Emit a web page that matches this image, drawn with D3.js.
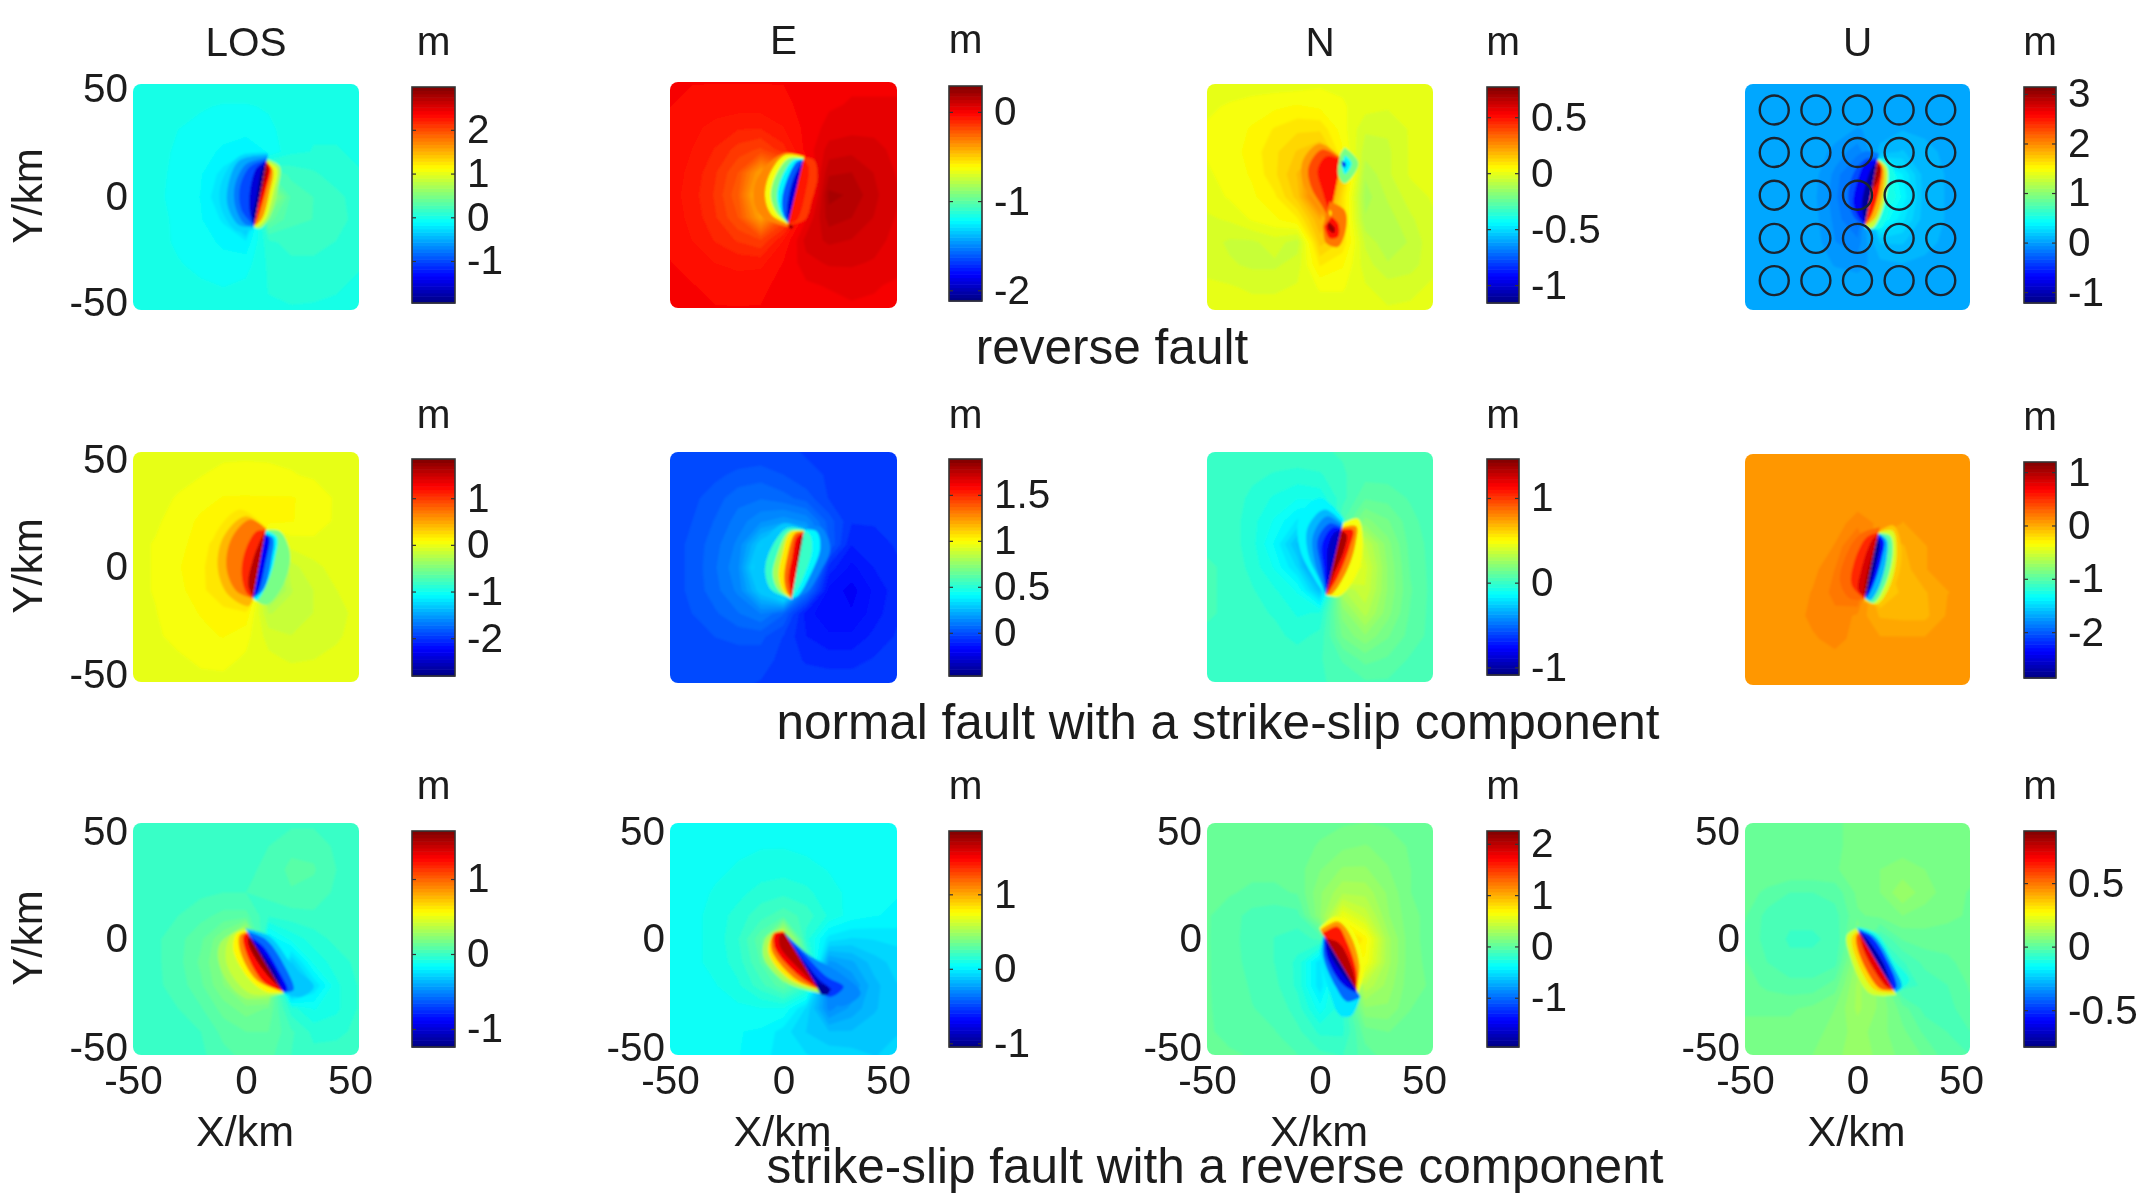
<!DOCTYPE html>
<meta charset="utf-8">
<style>
    html, body { margin: 0; background: #fff; }
    svg { display: block; filter: blur(0.6px); }
    text { font-family: "Liberation Sans", Arial, sans-serif; fill: #1c1c1c; font-size: 40.5px; }
    .cbar-axis path { display: none; }
    .cbar-axis line { stroke: #333; stroke-width: 1.2px; }
    .tick-axis path, .tick-axis line { display: none; }
</style>
<svg width="2150" height="1200"></svg>
<script src="https://d3js.org/d3.v7.min.js"></script>
<script>

    // grid rows run y = 50 .. -50, columns x = -50 .. 50, every 10 km. values in m
    var gridKm = [-50, -40, -30, -20, -10, 0, 10, 20, 30, 40, 50];

    var columnTitles = ["LOS", "E", "N", "U"];
    var rowTitles = ["reverse fault", "normal fault with a strike-slip component", "strike-slip fault with a reverse component"];
    var axisTicks = [-50, 0, 50];
    var circleKmX = [-37, -18.5, 0, 18.5, 37];
    var circleKmY = [38.5, 19.7, 0.8, -18.3, -37];

    var domains = [
        [-1.96, 2.98], [-2.12, 0.29], [-1.16, 0.77], [-1.22, 3.14],
        [-2.81, 1.84], [-0.47, 1.89], [-1.09, 1.46], [-2.86, 1.19],
        [-1.24, 1.64], [-1.05, 1.85], [-1.96, 2.25], [-0.79, 0.91]
    ];
    var barTicks = [
        [-1, 0, 1, 2], [-2, -1, 0], [-1, -0.5, 0, 0.5], [-1, 0, 1, 2, 3],
        [-2, -1, 0, 1], [0, 0.5, 1, 1.5], [-1, 0, 1], [-2, -1, 0, 1],
        [-1, 0, 1], [-1, 0, 1], [-1, 0, 1, 2], [-0.5, 0, 0.5]
    ];

    // fault trace of each panel in km: top x, top y, bottom x, bottom y
    var faults = [
        [9.1, 15.6, 3.7, -12.8], [8.8, 15.5, 2.2, -12.5], [9.4, 16.4, 3.5, -13.1], [9, 16.4, 3.4, -12.4],
        [8.8, 15.7, 3.2, -13.5], [8.8, 14, 3.7, -13.5], [9.4, 15.5, 2.8, -12], [9.3, 15.3, 3.4, -12],
        [1.5, 1.5, 16.5, -22.8], [0.7, 2.2, 15.5, -21.3], [1.9, 1, 16.2, -22.3], [2.4, 0.3, 16, -21.8]
    ];

    // reverse fault
    var losGrid1 = [
        .04,.04,.04,.04,.04,.04,.04,.04,.04,.04,.04,
        .04,.04,.02,-.02,-.04,-.04,-.02,.02,.04,.04,.04,
        .04,.02,-.03,-.06,-.08,-.08,-.05,.01,.04,.04,.04,
        .04,.01,-.05,-.08,-.12,-.16,-.1,.03,.05,.05,.04,
        .04,-.01,-.05,-.1,-.22,-.6,.3,.18,.14,.08,.05,
        .04,-.01,-.06,-.11,-.28,-.7,.7,.26,.2,.15,.08,
        .04,0,-.05,-.1,-.2,-.6,.4,.22,.2,.16,.09,
        .04,.01,-.05,-.08,-.12,-.16,.1,.16,.16,.12,.07,
        .04,.03,-.02,-.06,-.08,-.06,.06,.1,.1,.07,.05,
        .04,.04,.02,-.01,-.03,-.01,.05,.07,.06,.05,.04,
        .04,.04,.04,.04,.04,.04,.04,.04,.04,.04,.04
    ];
    var losLobes1 = [
        [-.28, [[8.2,19.5],[-3,18],[-11,6],[-11,-5],[-4,-15],[3.7,-14]]],
        [-.5, [[8.4,18.6],[-3,16],[-8,4.6],[-8,-4.3],[-3,-12.5],[3.7,-13]]],
        [-.75, [[8.6,17.4],[0,14.5],[-5,4.6],[-4.5,-5],[-.5,-12],[3.7,-13]]],
        [-1, [[8.8,16.4],[1.8,13.4],[-2.6,4.6],[-2,-5.8],[3.7,-12.8]]],
        [-1.5, [[8.8,16.2],[4.7,12.7],[1.8,3],[1.8,-7.2],[3.7,-12.8]]],
        [-1.9, [[9,15.6],[7,12],[4.7,0],[3.2,-8.7],[3.7,-12.4]]],
        [.7, [[9.9,16.7],[15,13.4],[14.3,4.6],[10.6,-8.7],[6.2,-13.9],[3.7,-13.5]]],
        [1.05, [[10,15.6],[13.6,12.7],[12,1.6],[8.4,-10],[5,-13],[3.7,-12.8]]],
        [1.6, [[9.5,15.4],[11.9,12],[10.3,1.6],[6.9,-10],[3.9,-12.8]]],
        [2.3, [[9.1,15.6],[10.9,12.7],[8.8,3],[5,-10],[3.7,-12.8]]],
        [2.8, [[9.1,15],[9.8,12.5],[7.4,3],[5.6,-4]]]
    ];
    var eGrid1 = [
        -.01,-.01,-.01,-.01,-.01,-.01,0,.01,.02,.02,.02,
        -.01,-.02,-.03,-.03,-.03,-.02,0,.02,.03,.03,.03,
        -.02,-.04,-.06,-.08,-.08,-.05,0,.04,.05,.05,.04,
        -.02,-.05,-.09,-.14,-.17,-.1,0,.08,.09,.08,.05,
        -.03,-.06,-.12,-.2,-.4,-.3,-.05,.13,.14,.1,.06,
        -.03,-.07,-.13,-.23,-.5,-.4,-.08,.19,.17,.11,.07,
        -.03,-.06,-.12,-.2,-.4,-.2,.02,.16,.14,.1,.06,
        -.02,-.05,-.09,-.13,-.16,-.05,.08,.11,.1,.08,.05,
        -.01,-.03,-.05,-.06,-.06,-.01,.05,.07,.07,.06,.04,
        -.01,-.01,-.02,-.03,-.02,0,.02,.03,.04,.03,.02,
        -.01,-.01,-.01,-.01,-.01,0,.01,.01,.02,.02,.01
    ];
    var eLobes1 = [
        [-.35, [[8.8,17],[0,18.4],[-10.3,9.6],[-13.3,-.7],[-9.6,-9.6],[2.2,-14]]],
        [-.65, [[8.8,16.8],[.7,17.7],[-5.9,9.6],[-8.1,-.7],[-5.2,-8.8],[1.8,-12.8]]],
        [-.95, [[8.8,16.2],[2.2,16.2],[-3.7,8.1],[-5.6,-.7],[-2.9,-8.1],[2,-12.5]]],
        [-1.25, [[8.8,15.8],[4.4,15.5],[-.7,8.1],[-2.9,-.7],[-1.2,-8.1],[2.1,-12.5]]],
        [-1.6, [[8.8,15.5],[5.9,14.7],[1.5,6.6],[-.7,-2.2],[0,-8.8],[2.2,-12.5]]],
        [-1.9, [[8.8,15.3],[6.9,12.5],[3.7,5.2],[1.8,-3.7],[1.5,-9.6],[2.2,-12.5]]],
        [-.14, [[9.1,16.7],[13.5,15.5],[15,8.1],[12.5,-2.2],[9.5,-11],[2.9,-13.3]]],
        [-.05, [[9.1,15.5],[11,12.5],[9.6,.7],[5.9,-11],[2.8,-12.8]]],
        [.22, [[2.6,-13],[4.4,-13.8],[3.4,-15],[2.2,-14]], 1]
    ];
    var nGrid1 = [
        0,0,0,0,0,.01,.01,0,0,0,0,
        .01,.02,.03,.04,.05,.04,.02,0,-.01,0,0,
        .02,.03,.05,.08,.1,.1,.03,-.04,-.04,-.01,0,
        .02,.03,.06,.1,.14,.17,.05,-.06,-.05,-.01,0,
        .01,.03,.05,.1,.17,.3,.15,-.1,-.05,-.01,0,
        0,.02,.04,.07,.15,.35,.1,-.12,-.07,-.03,-.01,
        -.02,-.01,.02,.04,.07,.2,.1,-.1,-.09,-.05,-.02,
        -.03,-.05,-.05,-.03,-.06,.15,.1,-.05,-.1,-.07,-.02,
        -.02,-.04,-.05,-.05,-.03,.08,.05,-.03,-.07,-.06,-.02,
        -.01,-.01,-.02,-.02,-.01,.02,.02,-.01,-.03,-.02,-.01,
        0,0,0,0,0,0,0,-.01,-.01,-.01,-.01
    ];
    var nLobes1 = [
        [.25, [[9.4,17],[0,23.7],[-7.5,16.4],[-7.5,6],[-1,-4],[3,-12]]],
        [.4, [[8.9,16.8],[1,21],[-5,13.4],[-4,4.6],[1.5,-5],[3.5,-10]]],
        [.52, [[8.7,16.4],[3,18],[-1,12],[1,3],[3.5,-5],[4.2,-8]]],
        [.3, [[4.3,-2],[10.9,-5.8],[11.7,-13],[8,-22],[2.8,-20.5],[1.3,-13]], 1],
        [.5, [[5,-8.7],[8,-11.7],[8,-17.5],[4.3,-18.3],[2,-13]], 1],
        [.72, [[3.5,-11],[6.5,-13.8],[6,-16],[3.5,-14]], 1],
        [.05, [[4.3,-5.5],[5.1,-7],[4.6,-8.5],[4.1,-7]], 1],
        [-.2, [[10.9,22],[17,15],[11,6],[8,10],[9,19]], 1],
        [-.45, [[11,18.5],[14,15],[11,10],[9.5,14]], 1],
        [-.95, [[9.5,15.8],[11.3,15],[11,13],[9.8,14]], 1]
    ];
    var uGrid1 = [
        .07,.07,.07,.07,.07,.07,.07,.07,.07,.07,.07,
        .07,.07,.07,.07,.07,.07,.07,.07,.07,.07,.07,
        .07,.07,.07,.07,.05,0,.03,.07,.07,.07,.07,
        .07,.07,.07,.06,-.02,-.1,.1,.15,.08,.07,.07,
        .07,.07,.07,.04,-.08,-.3,.6,.35,.1,.07,.07,
        .07,.07,.07,.03,-.1,-.4,.7,.4,.1,.07,.07,
        .07,.07,.07,.04,-.08,-.25,.5,.3,.1,.07,.07,
        .07,.07,.07,.05,-.06,-.1,.15,.15,.08,.07,.07,
        .07,.07,.07,.06,0,-.03,.05,.07,.07,.07,.07,
        .07,.07,.07,.07,.07,.07,.07,.07,.07,.07,.07,
        .07,.07,.07,.07,.07,.07,.07,.07,.07,.07,.07
    ];
    var uLobes1 = [
        [-.15, [[9,19.3],[2.7,20],[-4.7,12],[-7,-1.3],[-4.7,-10],[3.4,-13]]],
        [-.4, [[8.5,17],[4,17],[-2,10],[-4,-1],[-1.5,-9],[3.4,-13]]],
        [-.7, [[9,16.4],[4,15.6],[-.3,6],[-1.8,-2.8],[.4,-8.7],[3.4,-12.4]]],
        [-1.1, [[9,15.6],[6.3,12.7],[3.4,4.6],[1.9,-4.3],[3.4,-12.1]]],
        [.5, [[9.3,17],[13.7,16.4],[16.7,9],[14.5,-4.3],[10,-13.9],[4.1,-13.9]]],
        [1.3, [[9.3,16.7],[13,13.4],[13.3,4.6],[10,-8.7],[6.3,-13.9],[3.8,-12.8]]],
        [1.8, [[9.2,16.4],[11.8,12.7],[11.5,3],[7.8,-9.4],[4,-12.8]]],
        [2.5, [[9,16],[10.8,13.4],[10,4.6],[6.3,-8],[3.4,-12.4]]],
        [3, [[9,15],[10.2,12.7],[9,7],[8,2.8]]]
    ];

    // normal fault with a strike-slip component
    var losGrid2 = [
        0,0,0,0,0,0,0,0,0,0,0,
        0,0,0,.02,.05,.06,.05,.03,.01,0,0,
        0,0,.03,.07,.1,.1,.1,.1,.08,.01,0,
        0,.01,.06,.11,.14,.18,.13,.1,.07,.01,0,
        0,.03,.08,.12,.25,.5,-.2,-.02,0,0,0,
        0,.03,.09,.14,.3,.7,-.5,-.15,-.07,-.02,0,
        0,.03,.08,.13,.3,.6,-.5,-.2,-.12,-.05,-.02,
        0,.02,.07,.1,.12,.15,-.2,-.17,-.12,-.07,-.03,
        0,.01,.05,.08,.1,.05,-.08,-.12,-.1,-.06,-.02,
        0,0,.01,.04,.05,.01,-.03,-.06,-.05,-.03,-.01,
        0,0,0,0,0,0,0,0,0,0,0
    ];
    var losLobes2 = [
        [.2, [[9.1,17],[-2.7,25],[-13.7,14],[-16.7,-.4],[-11.5,-13.5],[.3,-19],[3,-14]]],
        [.45, [[9,16.6],[-.5,22],[-10,13],[-12.5,-.4],[-8,-12],[1,-17],[3,-14]]],
        [.75, [[8.8,16.5],[1.8,20.6],[-6.3,12.6],[-8.6,-.4],[-4.1,-10.6],[3,-13.6]]],
        [1.1, [[8.8,15.9],[4.7,15.5],[-.4,6.8],[-1.9,-3.3],[.3,-11.3],[3.2,-13.5]]],
        [1.6, [[8.8,15.7],[6.9,12.6],[2.9,2.5],[1,-7.7],[3.2,-13.5]]],
        [-.5, [[9,16],[15,15.5],[19.5,5.4],[16.5,-7.7],[9.1,-16.4],[3.5,-13.8]]],
        [-1.1, [[9,15.9],[13.6,13],[12.8,3.9],[9.1,-7.7],[4.7,-14.6],[3.4,-13.5]]],
        [-1.7, [[9,14.2],[12,12.6],[11.4,3.9],[7.7,-9.9],[3.6,-13.5]]],
        [-2.3, [[8.8,14.2],[10.3,12.6],[8.4,1],[5.5,-10.6],[3.2,-13.5]]]
    ];
    var eGrid2 = [
        -.02,-.02,-.02,-.02,-.02,-.02,-.03,-.03,-.03,-.03,-.03,
        -.02,-.01,0,.02,.03,.01,-.02,-.03,-.04,-.04,-.03,
        -.02,0,.03,.07,.08,.06,.03,-.03,-.05,-.05,-.04,
        -.02,.01,.05,.1,.15,.18,.15,.03,-.06,-.06,-.05,
        -.01,.02,.07,.13,.3,.5,.35,.05,-.1,-.08,-.06,
        -.01,.02,.08,.15,.4,.6,.3,-.08,-.15,-.1,-.07,
        -.01,.02,.07,.13,.3,.5,.1,-.15,-.19,-.13,-.08,
        -.01,.01,.04,.08,.12,.05,-.12,-.17,-.17,-.12,-.07,
        -.02,-.01,.01,.02,.02,-.03,-.1,-.13,-.13,-.09,-.06,
        -.02,-.02,-.01,-.01,-.01,-.04,-.07,-.08,-.08,-.06,-.05,
        -.02,-.02,-.02,-.02,-.03,-.04,-.04,-.04,-.04,-.04,-.03
    ];
    var eLobes2 = [
        [.3, [[8.8,16.5],[0,19],[-9.6,9.7],[-13.3,-1.9],[-8.8,-10.6],[2.2,-14.2]]],
        [.55, [[8.6,16.5],[1.5,17],[-5.9,7.5],[-8.1,-1.9],[-5.2,-9.9],[2.2,-13.5]]],
        [.8, [[8.6,16],[2.2,15.5],[-2.9,5.4],[-4.7,-3.3],[-2.2,-9.9],[3,-13.5]]],
        [1.05, [[8.6,15.7],[3,15.2],[-.7,5.4],[-2.2,-4],[0,-10.6],[3.4,-13.5]]],
        [1.35, [[8.8,15.4],[5.2,14.8],[1.5,3.9],[.3,-4.8],[1.5,-10.6],[3.7,-13.5]]],
        [1.6, [[8.8,15],[5.9,13.3],[3.7,3.9],[2.2,-4.8],[3.7,-13.5]]],
        [1.8, [[8.8,14],[7.4,12.7],[5.9,3.9],[4,-4.8]]],
        [.15, [[9.1,17],[16.2,17.7],[20.6,8.3],[16.2,-1.9],[10.3,-10.6],[4,-13.5]]],
        [.4, [[9.1,16.5],[14.7,15.5],[16.2,8.3],[11.8,-3.3],[6.6,-12],[4,-13.5]]],
        [.55, [[9.1,16],[11.8,14],[12.5,6.9],[10.3,-.4],[6.6,-8.5],[4.4,-13]]]
    ];
    var nGrid2 = [
        .02,.02,.02,.02,.02,.02,.03,.03,.03,.03,.03,
        .02,.02,0,-.02,-.03,-.02,.02,.05,.05,.04,.03,
        .02,.02,-.03,-.06,-.09,-.08,.01,.1,.09,.06,.03,
        .02,.01,-.04,-.1,-.18,-.25,.06,.2,.15,.08,.04,
        .02,.01,-.04,-.14,-.3,-.55,.5,.35,.2,.09,.05,
        .03,.02,-.03,-.1,-.22,-.5,.6,.4,.22,.1,.05,
        .03,.02,-.01,-.05,-.1,-.3,.3,.38,.22,.11,.05,
        .03,.02,0,-.02,-.06,-.05,.2,.32,.2,.1,.05,
        .02,.02,.01,0,-.03,0,.15,.22,.15,.09,.05,
        .02,.02,.02,.02,.01,.02,.07,.12,.1,.06,.04,
        .02,.02,.02,.02,.02,.02,.04,.06,.06,.05,.03
    ];
    var nLobes2 = [
        [-.15, [[10.4,21],[0,30],[-9,22],[-9,8],[-2,-6],[2.8,-12.7]]],
        [-.3, [[10.2,19],[2,25],[-5.5,17],[-5,5],[.5,-7],[2.8,-12.7]]],
        [-.45, [[10,18],[3,22],[-3,14],[-2.5,3],[1.5,-9],[2.8,-12.4]]],
        [-.6, [[9.9,17],[4.5,19],[-1,12],[.3,1],[2.5,-11]]],
        [-.75, [[9.7,16.5],[5.5,17],[1,10],[1.8,-1],[2.7,-11.5]]],
        [-.9, [[9.6,16],[6.5,15],[3.5,8.3],[3.2,-3.3],[2.8,-12]]],
        [.5, [[10.2,19],[16.8,21],[19,11],[16.8,-2],[8.7,-12.7],[3,-12.3]]],
        [.8, [[10.2,17.2],[16,17.7],[15.6,9.7],[11.7,-2],[5,-12],[3,-12]]],
        [1.1, [[9.8,16.2],[14.6,16],[13,8.3],[8,-4],[3.5,-11.3],[2.9,-12]]],
        [1.35, [[9.8,15.8],[11.8,14],[10.5,6.8],[5.8,-4],[3,-12]]]
    ];
    var uGrid2 = [
        .06,.06,.06,.06,.06,.06,.06,.06,.06,.06,.06,
        .06,.06,.06,.06,.06,.06,.06,.06,.06,.06,.06,
        .06,.06,.06,.06,.06,.08,.07,.06,.06,.06,.06,
        .06,.06,.06,.06,.08,.15,.1,.05,.06,.06,.06,
        .06,.06,.06,.06,.12,.3,0,-.02,.05,.06,.06,
        .06,.06,.06,.09,.18,.3,-.1,-.05,.05,.06,.06,
        .06,.06,.06,.12,.2,.3,-.2,-.05,-.02,.05,.06,
        .06,.06,.06,.14,.16,.1,-.02,-.03,-.03,.06,.06,
        .06,.06,.06,.1,.15,.08,.06,.06,.06,.06,.06,
        .06,.06,.06,.06,.07,.06,.06,.06,.06,.06,.06,
        .06,.06,.06,.06,.06,.06,.06,.06,.06,.06,.06
    ];
    var uLobes2 = [
        [.3, [[9.6,18.3],[1.2,15.3],[-5.5,5],[-7.7,-5.3],[-3.2,-12.7],[3.4,-12.7]]],
        [.55, [[9.3,16],[4,13.9],[-1.8,2],[-2.5,-6.8],[3,-12.7]]],
        [.85, [[9.3,15.6],[6.3,12.4],[1.9,.6],[.4,-9],[3.4,-12]]],
        [1.1, [[9.3,14.6],[7.4,9.4],[4.1,-2.4],[3,-9.7],[3.4,-12]]],
        [-.1, [[9.6,16.5],[15.9,19],[19.6,8],[16.7,-6.8],[10,-15.6],[4,-13.9]]],
        [-.5, [[9.6,16],[15.5,16.8],[17.4,8],[14.5,-6.8],[8.6,-14.9],[3.7,-12.8]]],
        [-1, [[9.6,15.7],[14.5,14.6],[15.6,6.5],[12.2,-6.8],[7,-14.5],[3.6,-12.5]]],
        [-1.6, [[9.6,15.6],[13,13],[13,5],[9.3,-8.3],[5.6,-13.4],[3.5,-12.2]]],
        [-2.3, [[9.6,15.3],[11.8,12.4],[10.8,5],[7,-6.8],[4.1,-12],[3.4,-12]]],
        [-2.75, [[9.4,14],[10,10.9],[8.6,3.5],[5.6,-6.8],[3.4,-11.3]]]
    ];

    // strike-slip fault with a reverse component
    var losGrid3 = [
        .01,.01,.01,.01,.01,.01,.01,.01,.01,.01,.01,
        .01,.01,.01,.01,.01,.01,.02,.05,.05,.01,.01,
        .01,.01,.01,.01,.01,.01,.03,.08,.07,.02,.01,
        .01,.01,.01,.01,.02,.02,.04,.06,.05,.01,.01,
        .01,.01,.02,.05,.08,.08,-.02,0,.01,.01,.01,
        .01,.01,.05,.1,.2,.45,-.2,-.1,-.05,-.01,0,
        .01,.01,.05,.12,.22,.4,.2,-.3,-.1,-.05,-.01,
        .01,.01,.04,.1,.2,.35,.4,-.5,-.25,-.08,-.02,
        .01,.01,.02,.06,.13,.18,.15,-.05,-.12,-.08,-.02,
        .01,.01,.01,.02,.08,.11,.11,.03,-.04,-.04,-.01,
        .01,.01,.01,.01,.05,.08,.08,.02,-.01,0,.01
    ];
    var losLobes3 = [
        [.3, [[-.4,5.3],[-11.5,-1.9],[-11.5,-12],[-1.2,-25],[15.8,-23.5]]],
        [.4, [[.6,4.6],[-7,1],[-8.6,-10.5],[1.8,-23.5],[16.2,-23]]],
        [.56, [[.6,3.6],[-4.1,2.4],[-5.6,-4.8],[1.8,-17.7],[9.1,-22.8],[16.2,-23]]],
        [.9, [[.6,3],[-2.7,1.7],[-2.7,-4.8],[4.7,-17.7],[15.8,-22.6]]],
        [1.25, [[.6,2.7],[-1.2,1],[.3,-6.2],[7.7,-18.4],[16.2,-22.6]]],
        [1.55, [[1,2.1],[1,-1.9],[7.7,-13.4],[16.4,-22.6]]],
        [-.3, [[4,4.6],[10.6,1],[21,-12],[30,-20.6],[24,-25],[17.2,-23.5]]],
        [-.6, [[3.7,3.2],[9,-.4],[18,-13.4],[21,-22],[16.9,-23]]],
        [-.9, [[3.5,1],[7.7,-3.3],[15,-14.8],[18.3,-22],[16.7,-23]]],
        [-1.15, [[3.2,-.1],[6.2,-4.8],[12.8,-13.4],[16.4,-22.6]]]
    ];
    var eGrid3 = [
        .04,.04,.04,.04,.04,.05,.04,.04,.04,.04,.04,
        .04,.05,.06,.07,.08,.08,.07,.06,.05,.04,.04,
        .05,.06,.07,.09,.1,.11,.1,.08,.06,.05,.04,
        .05,.06,.09,.11,.15,.16,.14,.1,.07,.05,.04,
        .05,.07,.1,.15,.2,.25,.2,.12,.06,.04,.03,
        .05,.07,.1,.17,.3,.7,.15,-.03,-.06,-.05,-.04,
        .05,.07,.1,.15,.27,.7,.3,-.25,-.2,-.12,-.08,
        .05,.06,.08,.12,.2,.3,.2,-.35,-.28,-.16,-.1,
        .04,.05,.06,.07,.08,.08,-.06,-.3,-.22,-.15,-.11,
        .04,.04,.04,.04,.03,-.03,-.1,-.14,-.14,-.12,-.1,
        .04,.04,.04,.04,.01,-.03,-.05,-.07,-.08,-.1,-.09
    ];
    var eLobes3 = [
        [.5, [[0,4.6],[-7.4,1],[-8.8,-7.6],[1.5,-19],[14.7,-23.5]]],
        [.85, [[0,3.9],[-5.2,1],[-6.6,-6.2],[3,-17.7],[15,-22]]],
        [1.15, [[.3,3.2],[-4.4,2.4],[-5.2,-4.8],[5.9,-17.7],[15,-21.6]]],
        [1.5, [[.4,2.9],[-3.7,2.2],[-3.7,-4],[7.4,-16.3],[15.3,-21.4]]],
        [1.7, [[.7,2.5],[-1.5,1.7],[-1.5,-3.3],[8,-14],[15.5,-21.3]]],
        [-.3, [[1.5,3.2],[10.3,-6.2],[25,-14.8],[34,-23.5],[25,-29],[16,-23.5]]],
        [-.55, [[2.2,1],[8.8,-6.2],[19,-16.3],[26.5,-20.6],[20.6,-25],[16,-22.4]]],
        [-.85, [[3.7,-1.9],[8.8,-9],[16,-17.7],[21,-22],[17,-23.5],[15.5,-21.3]]],
        [-1, [[14,-19],[19,-20.6],[20,-23.5],[17,-24],[15,-21.3]], 1]
    ];
    var nGrid3 = [
        .03,.03,.03,.03,.03,.05,.07,.08,.07,.06,.05,
        .03,.03,.03,.03,.04,.09,.13,.15,.12,.07,.05,
        .03,.03,.03,.03,.05,.14,.22,.22,.15,.08,.05,
        .03,.02,0,0,.02,.2,.33,.32,.2,.08,.05,
        .02,-.02,-.08,-.1,-.08,.2,.6,.45,.22,.1,.05,
        .02,-.03,-.08,-.12,-.15,-.1,1,.7,.3,.1,.05,
        .02,-.02,-.08,-.12,-.2,-.5,.8,.65,.3,.1,.06,
        .02,-.02,-.06,-.1,-.2,-.5,-.1,.4,.25,.1,.07,
        .02,-.01,-.05,-.07,-.15,-.35,-.2,.2,.2,.08,.06,
        .02,0,-.02,-.05,-.1,-.2,-.2,.05,.08,.07,.05,
        .02,.02,.01,-.02,-.05,-.1,-.12,-.02,.05,.05,.05
    ];
    var nLobes3 = [
        [.67, [[1.9,4.6],[7,9.7],[14.5,3.9],[19.6,-12],[17.4,-22],[16.2,-23.5]]],
        [1.1, [[2.7,3.9],[7.8,7.5],[13,2.4],[17.4,-11.2],[16.2,-22]]],
        [1.6, [[2.9,2.4],[7.8,5.3],[11.5,-.4],[16,-13.4],[16.2,-22.3]]],
        [2, [[3.3,.3],[8.5,-1.9],[14.5,-13.4],[16.2,-22.3]]],
        [-.5, [[1.5,1.7],[0,-6.2],[4,-22],[9,-33],[14,-33],[16.7,-25]]],
        [-1, [[1.5,1.3],[1.5,-7.6],[7,-20.6],[12,-27],[16,-25]]],
        [-1.5, [[1.6,.7],[3,-7.6],[9.5,-19],[14.5,-22.5],[16.2,-22.9]]],
        [-1.85, [[1.9,0],[5,-7.6],[11.5,-17],[16.2,-22.3]]]
    ];
    var uGrid3 = [
        .03,.03,.03,.03,.03,.04,.05,.05,.05,.05,.05,
        .03,.03,.03,.03,.03,.04,.05,.05,.05,.05,.05,
        .03,.03,.03,.03,.03,.05,.06,.07,.06,.05,.05,
        .02,0,-.02,-.02,-.01,.04,.06,.11,.07,.05,.03,
        .01,-.03,-.04,-.04,-.03,.03,.04,.06,.05,.04,.03,
        0,-.03,-.05,-.05,-.04,.06,-.05,.01,.02,.02,.02,
        .01,-.02,-.04,-.04,-.03,.1,-.05,-.05,-.01,0,.02,
        .02,0,-.01,-.01,.02,.12,.08,-.06,-.04,-.02,.01,
        .03,.03,.03,.04,.06,.12,.08,.02,-.03,-.03,0,
        .04,.04,.04,.05,.07,.1,.07,.04,0,-.02,-.02,
        .04,.04,.05,.06,.08,.1,.08,.05,.03,-.01,-.02
    ];
    var uLobes3 = [
        [.2, [[.4,4.6],[-4.7,1.7],[-3.2,-7.6],[5.6,-23.5],[16,-24]]],
        [.35, [[.9,3.6],[-2.5,1],[-1,-7.6],[7.8,-22],[15.7,-23]]],
        [.55, [[.9,2.8],[-.6,1],[1.2,-7.6],[10,-21.3],[16,-22]]],
        [.75, [[.9,2.5],[1.2,.3],[4,-7.6],[13,-20.6],[16,-21.8]]],
        [-.1, [[3.4,5.3],[8.6,2.4],[16,-9],[23,-17.7],[18.9,-23.5]]],
        [-.3, [[3.4,4.6],[7.8,1],[16,-12],[19.6,-20.6],[16.2,-23]]],
        [-.5, [[3.4,3.9],[6.3,1],[13.7,-10.5],[17.4,-20.6],[16,-22]]],
        [-.72, [[3.4,3.2],[4,.3],[11.5,-10.5],[16,-21.8]]]
    ];

    var grids = [losGrid1, eGrid1, nGrid1, uGrid1, losGrid2, eGrid2, nGrid2, uGrid2, losGrid3, eGrid3, nGrid3, uGrid3];
    var lobes = [losLobes1, eLobes1, nLobes1, uLobes1, losLobes2, eLobes2, nLobes2, uLobes2, losLobes3, eLobes3, nLobes3, uLobes3];

    // page layout, pixels
    var panelX = [[133, 359], [670, 897], [1207, 1433], [1745, 1970]],
        barX = [[412, 455], [949, 982], [1487, 1519], [2024, 2056]],
        panelY = [[[84, 310], [82, 308], [84, 310], [84, 310]],
                  [[452, 682], [452, 683], [452, 682], [454, 685]],
                  [[823, 1055], [823, 1055], [823, 1055], [823, 1055]]],
        barY = [[[87, 303], [86, 301], [87, 303], [87, 303]],
                [[459, 676], [459, 676], [459, 675], [462, 678]],
                [[831, 1047], [831, 1047], [831, 1047], [831, 1047]]],
        unitBase = [[55, 53, 55, 55], [428, 428, 428, 430], [799, 799, 799, 799]],
        topInset = [5, 8, 9],
        levelCount = 64;

    var svg = d3.select("svg");

    var defs = svg.append("defs");
    defs.append("filter").attr("id", "soft")
        .attr("x", "-5%").attr("y", "-5%").attr("width", "110%").attr("height", "110%")
        .append("feGaussianBlur").attr("stdDeviation", 1.1);

    // matlab jet
    function jet(t) {
        var c = function(v) { return Math.round(255 * Math.max(0, Math.min(1, v))); };
        return "rgb(" + c(1.5 - Math.abs(4 * t - 3)) + "," + c(1.5 - Math.abs(4 * t - 2)) + "," + c(1.5 - Math.abs(4 * t - 1)) + ")";
    }

    // puts the two ends of a lobe on the fault trace so both sides share one edge
    function onFault(p, f) {
        return [f[0] + (p[1] - f[1]) * (f[2] - f[0]) / (f[3] - f[1]), p[1]];
    }

    grids.forEach(function(grid, idx) {
        var col = idx % 4,
            row = Math.floor(idx / 4),
            domain = domains[idx],
            fault = faults[idx],
            px = panelX[col],
            py = panelY[row][col],
            bx = barX[col],
            by = barY[row][col];

        var x = d3.scaleLinear().domain([-50, 50]).range(px),
            y = d3.scaleLinear().domain([-50, 50]).range([py[1], py[0]]);

        // 64 level colormap, same as the figure
        var level = d3.scaleQuantize().domain(domain).range(d3.range(levelCount)),
            color = function(v) { return jet((level(v) + 0.5) / levelCount); };

        var clipId = "clip" + idx;
        defs.append("clipPath").attr("id", clipId).append("rect")
            .attr("x", px[0]).attr("y", py[0])
            .attr("width", px[1] - px[0]).attr("height", py[1] - py[0])
            .attr("rx", 8);

        var heat = svg.append("g").attr("clip-path", "url(#" + clipId + ")")
            .append("g").attr("filter", "url(#soft)");

        var thresholds = d3.range(levelCount).map(function(i) { return domain[0] + i * (domain[1] - domain[0]) / levelCount; });
        var clamped = grid.map(function(v) { return Math.max(domain[0], Math.min(domain[1], v)); });
        var contours = d3.contours().size([gridKm.length, gridKm.length]).thresholds(thresholds)(clamped);

        // contour coordinates are grid cells, cell centres sit at i + .5
        var step = gridKm[1] - gridKm[0];
        var toPage = d3.geoTransform({
            point: function(gx, gy) {
                this.stream.point(x(gridKm[0] + (gx - 0.5) * step), y(-gridKm[0] - (gy - 0.5) * step));
            }
        });
        heat.selectAll("path.band")
            .data(contours)
            .enter().append("path")
            .attr("class", "band")
            .attr("d", d3.geoPath(toPage))
            .attr("fill", function(d) { return color(d.value + 1e-6); });

        // near field lobes, each closes along the fault trace unless flagged as a free spot
        var lobeLine = d3.line()
            .x(function(d) { return x(d[0]); })
            .y(function(d) { return y(d[1]); })
            .curve(d3.curveCatmullRom.alpha(0.5));
        heat.selectAll("path.lobe")
            .data(lobes[idx])
            .enter().append("path")
            .attr("class", "lobe")
            .attr("d", function(d) {
                var pts = d[1].slice();
                if (!d[2]) {
                    pts[0] = onFault(pts[0], fault);
                    pts[pts.length - 1] = onFault(pts[pts.length - 1], fault);
                }
                return lobeLine(pts) + "Z";
            })
            .attr("fill", function(d) { return color(d[0]); });

        // station circles only on the U panel of the first row
        if (idx === 3) {
            var stations = d3.cross(circleKmX, circleKmY);
            svg.selectAll("circle.station")
                .data(stations)
                .enter().append("circle")
                .attr("class", "station")
                .attr("cx", function(d) { return x(d[0]); })
                .attr("cy", function(d) { return y(d[1]); })
                .attr("r", 14.5)
                .attr("fill", "none")
                .attr("stroke", "#1a2430")
                .attr("stroke-width", 2.4);
        }

        // tick labels sit a bit inside the panel ends in the figure
        if (col === 0 || row === 2) {
            var yLabels = d3.scaleLinear().domain([-50, 0, 50])
                .range([py[1] - 7, (py[0] + py[1]) / 2, py[0] + topInset[row]]);
            svg.append("g")
                .attr("class", "tick-axis")
                .attr("transform", "translate(" + px[0] + ",0)")
                .call(d3.axisLeft(yLabels).tickValues(axisTicks).tickSize(0).tickPadding(5).tickFormat(String));
        }
        if (row === 2) {
            var xLabels = d3.scaleLinear().domain([-50, 0, 50])
                .range([px[0], (px[0] + px[1]) / 2, px[1] - 9]);
            svg.append("g")
                .attr("class", "tick-axis")
                .attr("transform", "translate(0," + py[1] + ")")
                .call(d3.axisBottom(xLabels).tickValues(axisTicks).tickSize(0).tickPadding(10).tickFormat(String));
            svg.append("text")
                .attr("x", (px[0] + px[1]) / 2 - 1)
                .attr("y", 1146)
                .attr("text-anchor", "middle")
                .style("font-size", "43px")
                .text("X/km");
        }
        if (col === 0) {
            svg.append("text")
                .attr("transform", "translate(42," + ((py[0] + py[1]) / 2 - 1) + ") rotate(-90)")
                .attr("text-anchor", "middle")
                .style("font-size", "42px")
                .text("Y/km");
        }
        if (row === 0) {
            svg.append("text")
                .attr("x", (px[0] + px[1]) / 2)
                .attr("y", col === 1 ? 54 : 56)
                .attr("text-anchor", "middle")
                .text(columnTitles[col]);
        }

        // colorbar
        var barScale = d3.scaleLinear().domain(domain).range([by[1], by[0]]);
        var barBand = d3.scaleBand().domain(d3.range(levelCount)).range([by[1], by[0]]);
        svg.append("g").selectAll("rect")
            .data(d3.range(levelCount))
            .enter().append("rect")
            .attr("x", bx[0])
            .attr("y", function(d) { return barBand(d); })
            .attr("width", bx[1] - bx[0])
            .attr("height", barBand.bandwidth() + 0.6)
            .attr("fill", function(d) { return jet((d + 0.5) / levelCount); });
        svg.append("g")
            .attr("class", "cbar-axis")
            .attr("transform", "translate(" + bx[1] + ",0)")
            .call(d3.axisRight(barScale).tickValues(barTicks[idx]).tickSize(-4).tickPadding(12).tickFormat(String));
        svg.append("g")
            .attr("class", "cbar-axis")
            .attr("transform", "translate(" + bx[0] + ",0)")
            .call(d3.axisLeft(barScale).tickValues(barTicks[idx]).tickSize(-4).tickFormat(""));
        svg.append("rect")
            .attr("x", bx[0]).attr("y", by[0])
            .attr("width", bx[1] - bx[0]).attr("height", by[1] - by[0])
            .attr("fill", "none").attr("stroke", "#333").attr("stroke-width", 1.6);
        svg.append("text")
            .attr("x", (bx[0] + bx[1]) / 2)
            .attr("y", unitBase[row][col])
            .attr("text-anchor", "middle")
            .text("m");
    });

    svg.selectAll(".tick-axis text, .cbar-axis text")
        .style("font-size", "40.5px")
        .style("font-family", "\"Liberation Sans\", Arial, sans-serif")
        .attr("fill", "#1c1c1c");

    var rowTitleX = [1112, 1218, 1215],
        rowTitleY = [364, 739, 1183];
    svg.selectAll("text.row-title")
        .data(rowTitles)
        .enter().append("text")
        .attr("class", "row-title")
        .attr("x", function(d, i) { return rowTitleX[i]; })
        .attr("y", function(d, i) { return rowTitleY[i]; })
        .attr("text-anchor", "middle")
        .style("font-size", "49.5px")
        .text(function(d) { return d; });
</script>
